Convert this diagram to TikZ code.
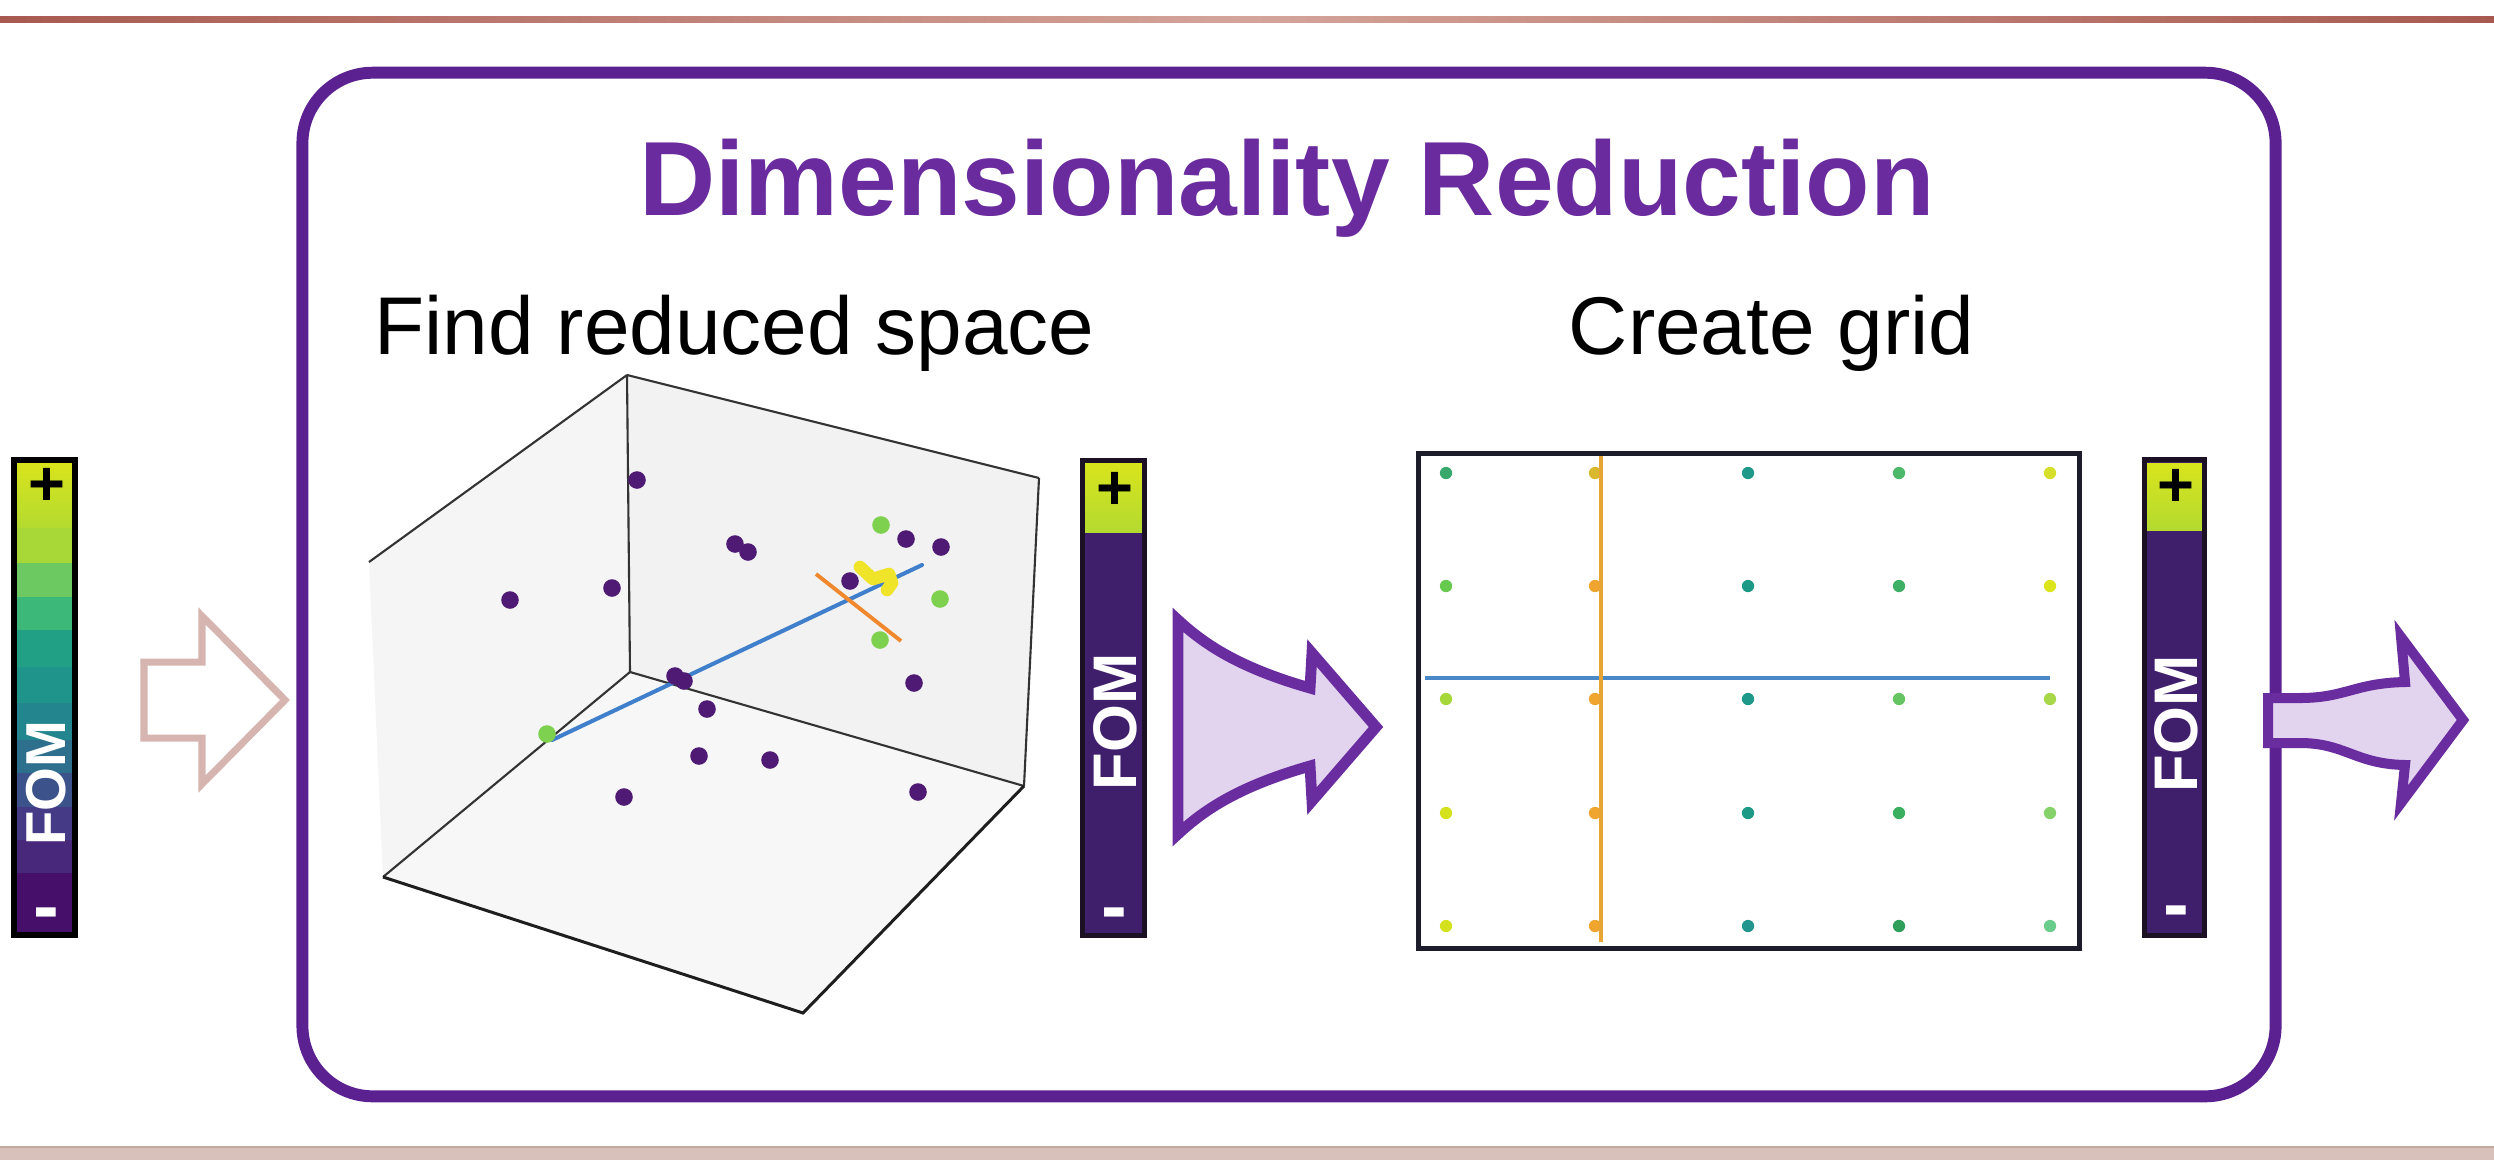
\documentclass[tikz,border=0pt]{standalone}
\usepackage{fontspec}
\setmainfont{Liberation Sans}
\definecolor{boxpurple}{HTML}{5C2190}
\definecolor{titlepurple}{HTML}{6A2B9E}
\definecolor{ruledark}{HTML}{A85A50}
\definecolor{rulelight}{HTML}{D4A49A}
\definecolor{bandcol}{HTML}{D8C1BA}
\definecolor{bandedge}{HTML}{C2AAA3}
\definecolor{pinkarrow}{HTML}{D6B4B0}
\definecolor{arrowpurple}{HTML}{6A2DA0}
\definecolor{arrowfill}{HTML}{E2D3EE}
\definecolor{barpurple}{HTML}{3F1F6C}
\definecolor{barborder}{HTML}{1B1024}
\definecolor{cbtop}{HTML}{D8E41C}
\definecolor{cbtopb}{HTML}{B4DA30}
\definecolor{dotpurple}{HTML}{4E1A74}
\definecolor{dotgreen}{HTML}{7DD14E}
\definecolor{lineblue}{HTML}{3F7FCB}
\definecolor{lineorange}{HTML}{F0882E}
\definecolor{gridorange}{HTML}{E8A535}
\definecolor{gridblue}{HTML}{4A88C8}
\definecolor{yellowblob}{HTML}{F0E42A}
\definecolor{paneback}{HTML}{F2F2F2}
\definecolor{paneleft}{HTML}{F5F5F5}
\definecolor{panefloor}{HTML}{F7F7F7}
\definecolor{edgegray}{HTML}{333333}
\definecolor{edgedark}{HTML}{1E1E1E}
\definecolor{gridframe}{HTML}{1C1C2C}
% viridis bands
\definecolor{vbA}{HTML}{A8D838}
\definecolor{vbB}{HTML}{6CC860}
\definecolor{vbC}{HTML}{3CB878}
\definecolor{vbD}{HTML}{22A085}
\definecolor{vbE}{HTML}{1F948A}
\definecolor{vbF}{HTML}{23868E}
\definecolor{vbG}{HTML}{2E6F8E}
\definecolor{vbH}{HTML}{3B528B}
\definecolor{vbI}{HTML}{453A85}
\definecolor{vbJ}{HTML}{48287A}
\definecolor{vbK}{HTML}{46106A}
% grid dot colours
\definecolor{gA}{HTML}{38A86C}
\definecolor{gB}{HTML}{D9B82E}
\definecolor{gC}{HTML}{1F9A8A}
\definecolor{gD}{HTML}{4CB86A}
\definecolor{gE}{HTML}{D6E02A}
\definecolor{gF}{HTML}{67C94E}
\definecolor{gG}{HTML}{1E9985}
\definecolor{gH}{HTML}{3DB065}
\definecolor{gI}{HTML}{DCE41C}
\definecolor{gJ}{HTML}{A6D83A}
\definecolor{gK}{HTML}{66C464}
\definecolor{gL}{HTML}{A8D84A}
\definecolor{gM}{HTML}{D4E21E}
\definecolor{gN}{HTML}{3AAF60}
\definecolor{gO}{HTML}{86D26A}
\definecolor{gP}{HTML}{22968E}
\definecolor{gQ}{HTML}{2E9E5A}
\definecolor{gR}{HTML}{6ACC8A}
\definecolor{gS}{HTML}{F0A52E}
\tikzset{
  mainbox/.style={draw=boxpurple, line width=3.4pt, rounded corners=20pt, inner sep=0pt},
  fomtext/.style={text=white, font=\bfseries\fontsize{17.5}{18}\selectfont, rotate=90, inner sep=0pt},
  plussign/.style={anchor=base, text=black, font=\bfseries\fontsize{18}{18}\selectfont, inner sep=0pt},
  minussign/.style={anchor=base, text=white, font=\bfseries\fontsize{22}{22}\selectfont, inner sep=0pt},
  edgeback/.style={draw=edgegray, line width=0.6pt},
  edgefront/.style={draw=edgedark, line width=0.85pt},
  bigarrow/.style={draw=arrowpurple, fill=arrowfill, line join=miter},
}
\begin{document}
\begin{tikzpicture}[x=0.01cm,y=-0.01cm]
\useasboundingbox (0,0) rectangle (2494,1160);
\fill[white] (0,0) rectangle (2494,1160);
% top rule and bottom band
\shade[left color=ruledark, right color=ruledark, middle color=rulelight] (0,16) rectangle (2494,22);
\fill[bandcol] (0,1147) rectangle (2494,1160);
\draw[bandedge, line width=0.6pt] (0,1147) -- (2494,1147);

% main box
\node[mainbox, minimum width=19.72cm, minimum height=10.23cm] (dimbox) at (1289,584.5) {};

% texts
\node[anchor=base, text=titlepurple, font=\bfseries\fontsize{30}{36}\selectfont, inner sep=0pt] (title) at (1287,215) {Dimensionality Reduction};
\node[anchor=base, font=\fontsize{23.3}{28}\selectfont, inner sep=0pt] (find) at (734.5,354) {Find reduced space};
\node[anchor=base, font=\fontsize{23.3}{28}\selectfont, inner sep=0pt] (create) at (1771.5,354) {Create grid};

% ---------- left colorbar ----------
\shade[top color=cbtop, bottom color=cbtopb] (17,463) rectangle (72,528);
\foreach \ya/\yb/\c in {528/563/vbA, 563/597/vbB, 597/630/vbC, 630/667/vbD, 667/703/vbE, 703/740/vbF, 740/773/vbG, 773/807/vbH, 807/840/vbI, 840/873/vbJ, 873/933/vbK}
  \fill[\c] (17,\ya) rectangle (72,\yb);
\draw[black, line width=1.7pt] (14,460) rectangle (75,935);
\node[fomtext, font=\bfseries\fontsize{16}{17}\selectfont] (fomA) at (46,783) {FOM};
\node[plussign] (plusA) at (47,505) {+};
\node[minussign] (minusA) at (46,932) {-};

% pink arrow
\draw[pinkarrow, line width=2pt, fill=white, line join=miter] (144,662) -- (202,662) -- (202,616) -- (285,700) -- (202,784) -- (202,738) -- (144,738) -- cycle;

% ---------- 3D plot ----------
\fill[paneleft] (627,375) -- (369,562) -- (383,877) -- (630,672) -- cycle;
\fill[paneback] (627,375) -- (1039,478) -- (1024,786) -- (630,672) -- cycle;
\fill[panefloor] (630,672) -- (383,877) -- (803,1013) -- (1024,786) -- cycle;
\draw[edgeback] (627,375) -- (630,672);
\draw[edgeback] (627,375) -- (369,562);
\draw[edgeback] (627,375) -- (1039,478);
\draw[edgeback] (1039,478) -- (1024,786);
\draw[edgeback] (630,672) -- (1024,786);
\draw[edgeback] (630,672) -- (383,877);
\draw[edgefront] (383,877) -- (803,1013) -- (1024,786);

\foreach \p in {(637,480),(735,544),(748,552),(612,588),(510,600),(906,539),(941,547),(850,581),(707,709),(914,683),(699,756),(770,760),(624,797),(918,792)}
  \fill[dotpurple] \p circle[radius=2.5pt];
\draw[lineblue, line width=1.15pt, line cap=round] (552,740) -- (922,565);
\draw[lineorange, line width=1.1pt] (816,574) -- (901,641);
\foreach \p in {(675,676),(684,681)}
  \fill[dotpurple] \p circle[radius=2.5pt];
\draw[yellowblob, line width=3.6pt, line cap=round, line join=round] (860,567) -- (873,579) -- (889,574) -- (892,583) -- (887,590);
\foreach \p in {(881,525),(940,599),(880,640),(547,734)}
  \fill[dotgreen] \p circle[radius=2.5pt];

% ---------- middle colorbar ----------
\fill[barpurple] (1082.5,460.5) rectangle (1144.5,935.5);
\shade[top color=cbtop, bottom color=cbtopb] (1085,463) rectangle (1142,532);
\draw[barborder, line width=1.42pt] (1082.5,460.5) rectangle (1144.5,935.5);
\node[fomtext] (fomB) at (1115,722) {FOM};
\node[plussign] (plusB) at (1115,509) {+};
\node[minussign] (minusB) at (1114,932) {-};

% middle arrow
\draw[bigarrow, line width=3.1pt] (1178,620) .. controls (1205,645) and (1240,668) .. (1310,688) -- (1312,653) -- (1376,727) -- (1312,801) -- (1310,766) .. controls (1240,786) and (1205,809) .. (1178,834) -- cycle;

% ---------- grid panel ----------
\foreach \x/\y/\c in {
  1446/473/gA, 1595/473/gB, 1748/473/gC, 1899/473/gD, 2050/473/gE,
  1446/586/gF, 1595/586/gS, 1748/586/gG, 1899/586/gH, 2050/586/gI,
  1446/699/gJ, 1595/699/gS, 1748/699/gC, 1899/699/gK, 2050/699/gL,
  1446/813/gM, 1595/813/gS, 1748/813/gG, 1899/813/gN, 2050/813/gO,
  1446/926/gM, 1595/926/gS, 1748/926/gP, 1899/926/gQ, 2050/926/gR}
  \fill[\c] (\x,\y) circle[radius=1.75pt];
\draw[gridblue, line width=1.4pt] (1425,678) -- (2050,678);
\draw[gridorange, line width=1.2pt] (1601,456) -- (1601,942);
\draw[gridframe, line width=1.42pt] (1418.5,453.5) rectangle (2079.5,948.5);

% ---------- right colorbar ----------
\fill[barpurple] (2144.5,459.5) rectangle (2204.5,935.5);
\shade[top color=cbtop, bottom color=cbtopb] (2147,463) rectangle (2202,530);
\draw[barborder, line width=1.42pt] (2144.5,459.5) rectangle (2204.5,935.5);
\node[fomtext] (fomC) at (2176,724) {FOM};
\node[plussign] (plusC) at (2176,506) {+};
\node[minussign] (minusC) at (2176,930) {-};

% right arrow
\draw[bigarrow, line width=2.85pt] (2268,698) -- (2300,698) .. controls (2345,698) and (2355,683) .. (2405,682) -- (2401,637) -- (2463,720) -- (2401,803) -- (2405,765) .. controls (2355,764) and (2345,743) .. (2300,743) -- (2268,743) -- cycle;
\end{tikzpicture}
\end{document}
